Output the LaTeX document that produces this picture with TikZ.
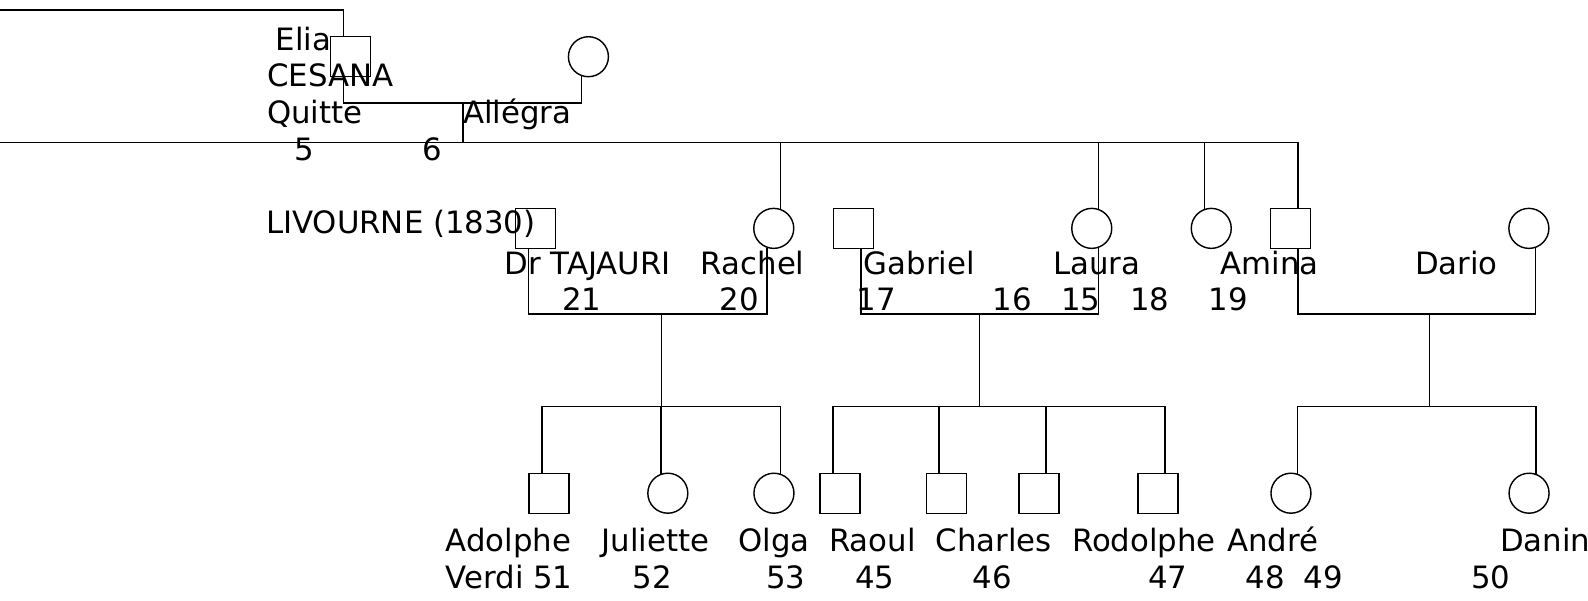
\documentclass[tikz,border=0pt]{standalone}
\usepackage{fontspec}
\setmainfont{DejaVu Sans}
\tikzset{>=latex}
\tikzset{
  male/.style={draw,rectangle,minimum size=19.75pt,inner sep=0pt},
  female/.style={draw,circle,minimum size=19.75pt,inner sep=0pt},
  txt/.style={anchor=base west,inner sep=0pt,font=\fontsize{15.2}{18}\selectfont},
  numtxt/.style={anchor=base,inner sep=0pt,font=\fontsize{15.2}{18}\selectfont},
  link/.style={line width=0.7pt}
}

\begin{document}
\begin{tikzpicture}[x=0.5pt,y=-0.5pt,line width=0.7pt]
  \def\yA{56}
  \def\yB{225.5}
  \def\yC{487}
  \def\yM{310}
  \def\yS{401.5}
  \useasboundingbox (0,0) rectangle (1568,593);

  % PERSONS
  \node[male] (elia) at (346,\yA) {};
  \node[female] (allegra) at (581,\yA) {};
  \foreach \n/\s/\x in {tajauri/male/529, rachel/female/764, gabriel/male/843,
                         laura/female/1078, sister/female/1196, amina/male/1274.4,
                         dario/female/1509.6}{
    \node[\s] (\n) at (\x,\yB) {};
  }
  \foreach \n/\s/\x in {k1/male/542.2, k2/female/659.4, k3/female/764.2,
                         k4/male/829.4, k5/male/934.3, k6/male/1025.7,
                         k7/male/1143.4, k8/female/1274.7, k9/female/1509.8}{
    \node[\s] (\n) at (\x,\yC) {};
  }

  % FIRST COUPLE
  \coordinate (west1) at (0,10);
  \coordinate (west2) at (0,140.5);
  \coordinate (m1) at (457,101.7);
  \coordinate (s1) at (457,140.5);
  \draw[link] (west1) -| (elia.109);
  \draw[link] (elia.-109) |- (m1) -| (allegra.-109);
  \draw[link] (m1) -- (s1);
  \draw[link] (west2) -| (amina.71);
  \draw[link] (rachel.71) -- (rachel.71 |- s1);
  \draw[link] (laura.71) -- (laura.71 |- s1);
  \draw[link] (sister.109) -- (sister.109 |- s1);

  % COUPLES OF THE SECOND ROW
  \coordinate (m2) at (653,\yM);
  \coordinate (c2) at (653,\yS);
  \draw[link] (tajauri.-109) |- (m2) -| (rachel.-109);
  \draw[link] (m2) -- (c2);
  \draw[link] (k1.109) |- (c2) -| (k3.71);
  \draw[link] (k2.109) -- (k2.109 |- c2);

  \coordinate (m3) at (967.1,\yM);
  \coordinate (c3) at (967.1,\yS);
  \draw[link] (gabriel.-71) |- (m3) -| (laura.-71);
  \draw[link] (m3) -- (c3);
  \draw[link] (k4.109) |- (c3) -| (k7.71);
  \draw[link] (k5.109) -- (k5.109 |- c3);
  \draw[link] (k6.71) -- (k6.71 |- c3);

  \coordinate (m4) at (1411.5,\yM);
  \coordinate (c4) at (1411.5,\yS);
  \draw[link] (amina.-71) |- (m4) -| (dario.-71);
  \draw[link] (m4) -- (c4);
  \draw[link] (k8.71) |- (c4) -| (k9.71);

  % LABELS
  \node[txt] (eliaA) at (271.5,49.4) {Elia};
  \node[txt] (eliaB) at (263,85.6) {CESANA};
  \node[txt] (eliaC) at (263,121.8) {Quitte};
  \node[txt] (allegraA) at (456.5,121.8) {Allégra};
  \node[txt] (place) at (262,230.4) {LIVOURNE (1830)};
  \foreach \v/\x in {5/300.8, 6/427}{
    \node[numtxt] (n\v) at (\x,158) {\v};
  }
  \foreach \t/\x [count=\i] in {Dr TAJAURI/497.5, Rachel/691.4, Gabriel/852.4,
                                Laura/1039.3, Amina/1204.5, Dario/1396.5}{
    \node[txt] (nameB\i) at (\x,270.9) {\t};
  }
  \foreach \v/\x in {21/574.4, 20/729.7, 17/865.3, 16/999.5, 15/1067.2,
                     18/1135.2, 19/1212.8}{
    \node[numtxt] (n\v) at (\x,306.1) {\v};
  }
  \foreach \t/\x [count=\i] in {Adolphe/439.5, Juliette/593.5, Olga/728.6,
                                Raoul/818, Charles/923.2, Rodolphe/1057.8,
                                André/1211, Danin/1480.6}{
    \node[txt] (nameC\i) at (\x,544.7) {\t};
  }
  \node[txt] (verdi) at (439.5,580.9) {Verdi 51};
  \foreach \v/\x in {52/644, 53/776, 45/863.6, 46/979.6, 47/1153,
                     48/1249.5, 49/1306.6, 50/1472}{
    \node[numtxt] (n\v) at (\x,580.9) {\v};
  }
\end{tikzpicture}
\end{document}
